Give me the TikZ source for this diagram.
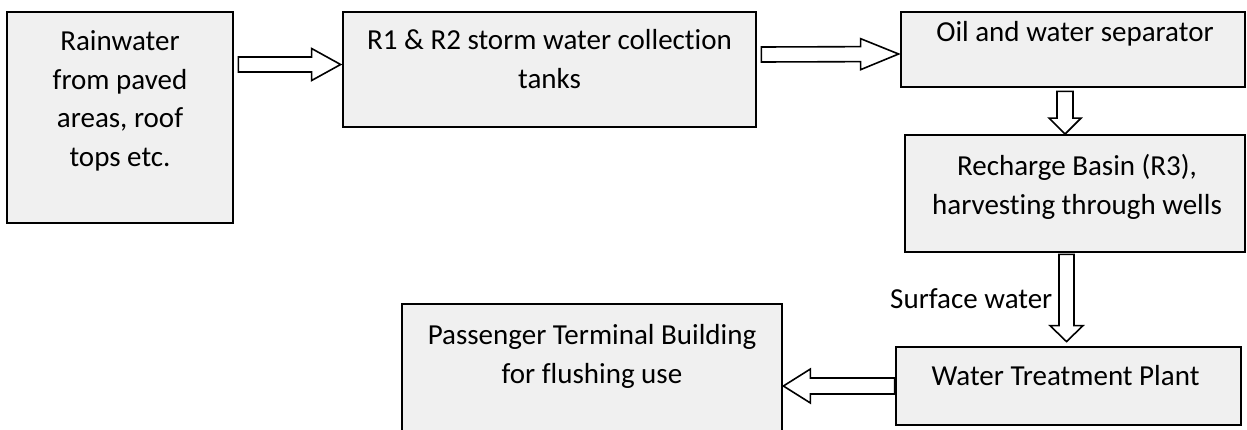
\documentclass[tikz,border=0pt]{standalone}
\usepackage{fontspec}
\setmainfont{Carlito}[Ligatures=NoCommon]
\usetikzlibrary{calc}
\definecolor{boxfill}{HTML}{F0F0F0}
\newcommand{\fstrut}{\rule{0pt}{30pt}}
\tikzset{
  box/.style={draw=black, line width=2.8pt, fill=boxfill, rectangle, inner sep=0pt},
  txt/.style={font=\fontsize{29}{38.5}\selectfont, align=center, inner sep=0pt, anchor=north},
  blockarrow/.style={draw=black, fill=white, line width=1.6pt, line join=miter},
}
% #1 start (shaft end), #2 tip, #3 shaft half width, #4 head half width, #5 head length
\newcommand{\blockarrow}[5]{%
  \coordinate (hb) at ($(#2)!#5pt!(#1)$);
  \draw[blockarrow]
    ($(#1)!#3pt!90:(#2)$) -- ($(hb)!#3pt!90:(#2)$) -- ($(hb)!#4pt!90:(#2)$) --
    (#2) --
    ($(hb)!#4pt!-90:(#2)$) -- ($(hb)!#3pt!-90:(#2)$) -- ($(#1)!#3pt!-90:(#2)$) -- cycle;
}
\begin{document}
\begin{tikzpicture}[x=1pt,y=-1pt]
\useasboundingbox (0,0) rectangle (1247,429);
% boxes
\node[box, minimum width=226pt, minimum height=211pt] (b1) at (120,117.5) {};
\node[box, minimum width=413pt, minimum height=115pt] (b2) at (549.5,69.5) {};
\node[box, minimum width=344pt, minimum height=75pt] (b3) at (1073,49.5) {};
\node[box, minimum width=340pt, minimum height=117pt] (b4) at (1075,193.5) {};
\node[box, minimum width=345pt, minimum height=78pt] (b5) at (1068.5,386) {};
\node[box, minimum width=380pt, minimum height=136pt] (b6) at (592,372) {};
% texts
\node[txt] (t1) at ($(b1.north)+(0,10)$) {\fstrut Rainwater\\from paved\\areas, roof\\tops etc.};
\node[txt] (t2) at ($(b2.north)+(0,9)$) {\fstrut R1 \& R2 storm water collection\\tanks};
\node[txt] (t3) at ($(b3.north)+(2,0.5)$) {\fstrut Oil and water separator};
\node[txt] (t4) at ($(b4.north)+(2,12)$) {\fstrut Recharge Basin (R3),\\harvesting through wells};
\node[txt] (t5) at ($(b5.north)+(-3,10)$) {\fstrut Water Treatment Plant};
\node[txt] (t6) at ($(b6.north)+(0,12)$) {\fstrut Passenger Terminal Building\\for flushing use};
% arrow end points
\coordinate (a1s) at ($(b1.east)+(4,-53)$);
\coordinate (a1t) at ($(b2.west)+(-1,-5)$);
\coordinate (a2s) at ($(b2.east)+(4,-15)$);
\coordinate (a2t) at ($(b3.west)+(-1,4.5)$);
\coordinate (a3s) at ($(b3.south)+(-8,3)$);
\coordinate (a3t) at ($(b4.north)+(-10,0.5)$);
\coordinate (a4s) at ($(b4.south)+(-8.5,1)$);
\coordinate (a4t) at ($(b5.north)+(-2,-4)$);
\coordinate (a5s) at (b5.west);
\coordinate (a5t) at ($(b6.east)+(0,14)$);
% arrows
\blockarrow{a1s}{a1t}{7.5}{16}{29}
\blockarrow{a2s}{a2t}{7.5}{15.5}{38}
\blockarrow{a3s}{a3t}{8}{16}{16}
\blockarrow{a4s}{a4t}{7.5}{16.5}{16}
\blockarrow{a5s}{a5t}{8}{17}{27}
% label
\node[font=\fontsize{29}{38.5}\selectfont, anchor=base east, inner sep=0pt] (sw) at ($(a4s)+(-14,54)$) {Surface water};
\end{tikzpicture}
\end{document}
